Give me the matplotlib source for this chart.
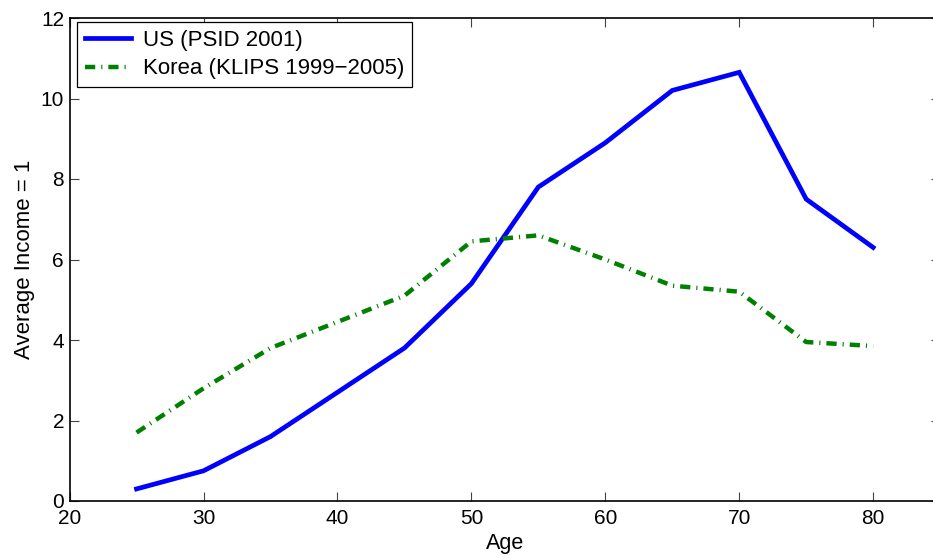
import matplotlib
matplotlib.use('Agg')
import matplotlib.pyplot as plt

# age groups and income relative to the average
ages = [25, 30, 35, 40, 45, 50, 55, 60, 65, 70, 75, 80]
us_psid = [0.3, 0.75, 1.6, 2.7, 3.8, 5.4, 7.8, 8.9, 10.2, 10.65, 7.5, 6.3]
korea_klips = [1.7, 2.8, 3.8, 4.45, 5.1, 6.45, 6.6, 6.0, 5.35, 5.2, 3.95, 3.85]

xticks = [20, 30, 40, 50, 60, 70, 80]
yticks = [0, 2, 4, 6, 8, 10, 12]

plt.rcParams['font.family'] = ['Liberation Sans', 'DejaVu Sans']
plt.rcParams['font.size'] = 15

fig = plt.figure(figsize=(9.33, 5.55), dpi=100)
# axes box runs a little past the right edge, as in the cropped original
ax = fig.add_axes([69.6 / 933, 54 / 555, 870.5 / 933, 483 / 555])

ax.plot(ages, us_psid, color='#0000ff', lw=3.4, label='US (PSID 2001)',
        solid_joinstyle='miter')
ax.plot(ages, korea_klips, color='#008000', lw=3.2, label='Korea (KLIPS 1999\u22122005)',
        dashes=(2.3, 1.35, 0.25, 1.35), dash_capstyle='butt')

ax.set_xlim(20, 85)
ax.set_ylim(0, 12)
ax.set_xticks(xticks)
ax.set_yticks(yticks)
ax.tick_params(direction='in', length=6.5, width=0.8, color='#444444',
               top=True, right=True, labelsize=15)
ax.tick_params(axis='x', pad=6)
ax.tick_params(axis='y', pad=4)
for sp in ax.spines.values():
    sp.set_linewidth(1.2)

ax.set_xlabel('Age', fontsize=15.5, labelpad=3)
ax.set_ylabel('Average Income = 1', fontsize=16, labelpad=4)

leg = ax.legend(loc='upper left', bbox_to_anchor=(0.0085, 0.992), borderaxespad=0,
                fancybox=False, framealpha=1, edgecolor='black', fontsize=16,
                handlelength=2.1, handletextpad=0.5, borderpad=0.35, labelspacing=0.35)
leg.get_frame().set_linewidth(0.9)

fig.savefig('out.png', dpi=100)
